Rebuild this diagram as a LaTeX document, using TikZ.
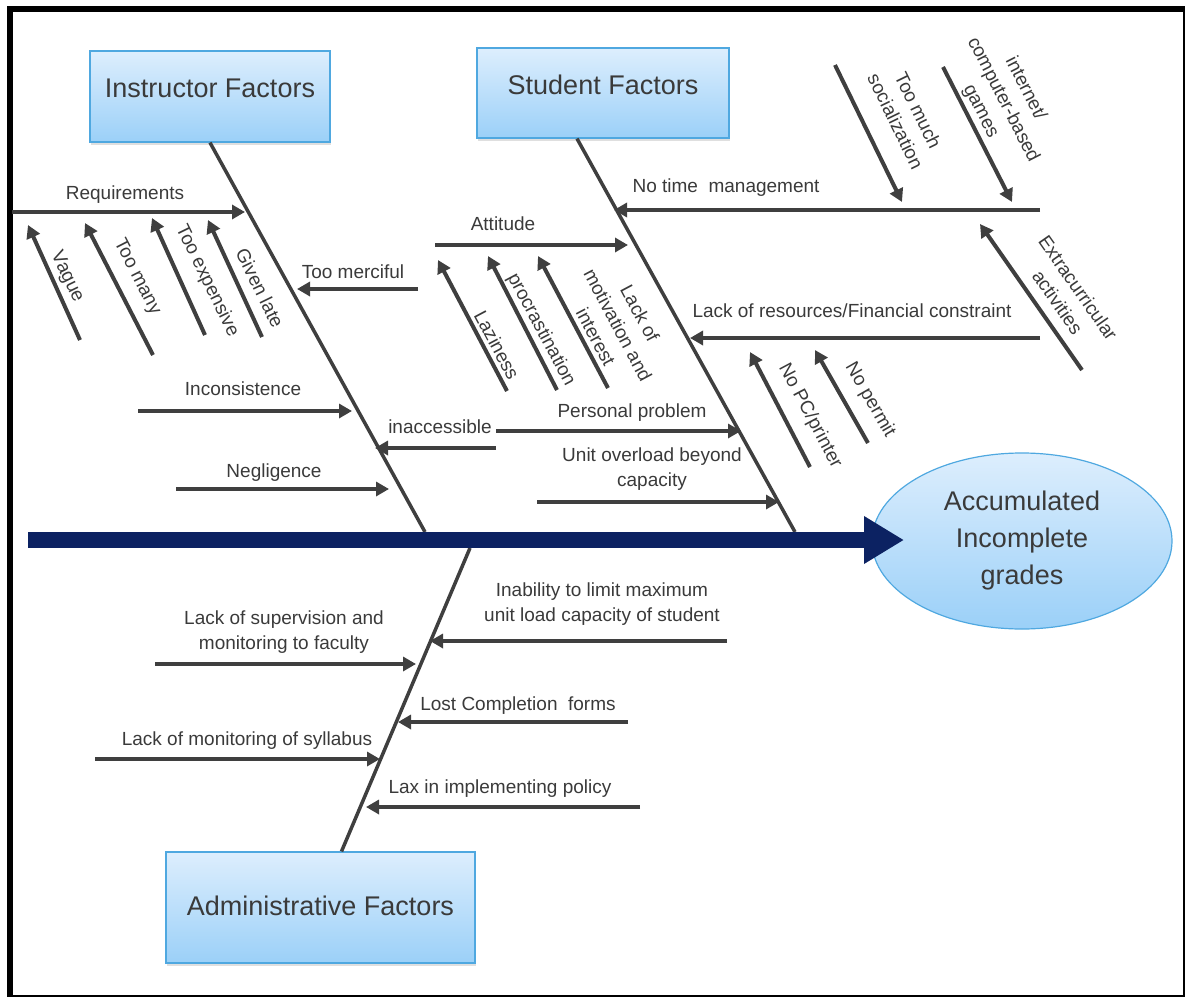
\documentclass[tikz,border=0pt]{standalone}
\usepackage{fontspec}
\setmainfont{Liberation Sans}
\usetikzlibrary{arrows.meta, shapes.geometric, shadows, positioning}

\definecolor{spineblue}{HTML}{0C2262}
\definecolor{bonegray}{HTML}{3F3F3F}
\definecolor{boxtop}{HTML}{DDEEFD}
\definecolor{boxbot}{HTML}{9BD0F8}
\definecolor{boxline}{HTML}{4FA8E0}
\definecolor{txtgray}{HTML}{3A3A3A}

\tikzset{
  factor/.style={draw=boxline, line width=1.2pt, top color=boxtop, bottom color=boxbot,
    text=txtgray, font=\fontsize{27}{30}\selectfont, text height=20pt,
    drop shadow={shadow xshift=1pt, shadow yshift=-3pt, opacity=.25}},
  effect/.style={ellipse, draw=boxline, line width=1.2pt, top color=boxtop, bottom color=boxbot,
    text=txtgray, font=\fontsize{27}{37}\selectfont, align=center,
    minimum width=300pt, minimum height=176pt, inner sep=0pt},
  bone/.style={draw=bonegray, line width=3.5pt},
  cause/.style={draw=bonegray, line width=4pt, -{Triangle[length=13pt,width=14pt]}},
  spine/.style={draw=spineblue, line width=16pt, -{Triangle[length=40pt,width=45pt]}},
  lbl/.style={text=txtgray, font=\fontsize{19}{25}\selectfont, inner sep=0pt, align=center},
}

\begin{document}
\begin{tikzpicture}[x=1pt, y=-1pt]
\useasboundingbox (0,0) rectangle (1187,998);

% frame
\draw[line width=6pt] (7,9) -- (1185,9);
\draw[line width=6pt] (10,7) -- (10,997);
\draw[line width=1.5pt] (1184,9) -- (1184,996) -- (7,996);

% heads
\node[factor, minimum width=240pt, minimum height=91pt, text depth=17pt] (instr) at (210,96.5) {Instructor Factors};
\node[factor, minimum width=252pt, minimum height=90pt, text depth=16pt] (stud) at (603,93) {Student Factors};
\node[factor, minimum width=309pt, minimum height=111pt, text depth=5pt] (admin) at (320.5,907.5) {Administrative Factors};
\node[effect] (result) at (1022,541) {Accumulated\\Incomplete\\grades};

% bones
\coordinate (ib-end) at (425,532);
\coordinate (sb-end) at (795,532);
\coordinate (ab-top) at (470,548);
\draw[bone] (instr.south) -- (ib-end);
\draw[bone] ([xshift=-26pt]stud.south) -- (sb-end);
\draw[bone] (ab-top) -- ([xshift=21pt]admin.north);

% spine
\coordinate (sp-a) at (28,540);
\coordinate (sp-b) at (904,540);
\draw[spine] (sp-a) -- (sp-b);

% instructor causes
\coordinate (req-a) at (12,212);   \coordinate (req-b) at (245,212);
\coordinate (vag-a) at (80,340);   \coordinate (vag-b) at (28,225);
\coordinate (many-a) at (153,355); \coordinate (many-b) at (85,223);
\coordinate (exp-a) at (205,335);  \coordinate (exp-b) at (152,218);
\coordinate (late-a) at (262,337); \coordinate (late-b) at (208,220);
\coordinate (mer-a) at (418,289);  \coordinate (mer-b) at (297,289);
\coordinate (inc-a) at (138,411);  \coordinate (inc-b) at (352,411);
\coordinate (neg-a) at (176,489);  \coordinate (neg-b) at (389,489);
\coordinate (acc-a) at (496,448);  \coordinate (acc-b) at (375,448);
\draw (req-a) edge[cause] (req-b)
      (vag-a) edge[cause] (vag-b)
      (many-a) edge[cause] (many-b)
      (exp-a) edge[cause] (exp-b)
      (late-a) edge[cause] (late-b)
      (mer-a) edge[cause] (mer-b)
      (inc-a) edge[cause] (inc-b)
      (neg-a) edge[cause] (neg-b)
      (acc-a) edge[cause] (acc-b);
\node[lbl, anchor=base] (req) at (125,199) {Requirements};
\node[lbl, rotate=-64] (vag) at (67,277) {Vague};
\node[lbl, rotate=-63] (many) at (137,277) {Too many};
\node[lbl, rotate=-64] (exp) at (207,281) {Too expensive};
\node[lbl, rotate=-64] (late) at (260,288) {Given late};
\node[lbl, anchor=base] (mer) at (353,278) {Too merciful};
\node[lbl, anchor=base] (inc) at (243,395) {Inconsistence};
\node[lbl, anchor=base] (neg) at (274,477) {Negligence};
\node[lbl, anchor=base] (acc) at (440,433) {inaccessible};

% student causes
\coordinate (att-a) at (435,245);   \coordinate (att-b) at (628,245);
\coordinate (laz-a) at (507,391);   \coordinate (laz-b) at (438,260);
\coordinate (pro-a) at (557,390);   \coordinate (pro-b) at (488,256);
\coordinate (mot-a) at (608,388);   \coordinate (mot-b) at (538,256);
\coordinate (tm-a) at (1040,210);   \coordinate (tm-b) at (614,210);
\coordinate (soc-a) at (835,65);    \coordinate (soc-b) at (902,202);
\coordinate (gam-a) at (943,67);    \coordinate (gam-b) at (1012,202);
\coordinate (ext-a) at (1082,370);  \coordinate (ext-b) at (980,224);
\coordinate (res-a) at (1040,338);  \coordinate (res-b) at (690,338);
\coordinate (pc-a) at (810,467);    \coordinate (pc-b) at (750,352);
\coordinate (per-a) at (868,443);   \coordinate (per-b) at (815,350);
\coordinate (pp-a) at (496,431);    \coordinate (pp-b) at (741,431);
\coordinate (uo-a) at (537,502);    \coordinate (uo-b) at (779,502);
\draw (att-a) edge[cause] (att-b)
      (laz-a) edge[cause] (laz-b)
      (pro-a) edge[cause] (pro-b)
      (mot-a) edge[cause] (mot-b)
      (tm-a) edge[cause] (tm-b)
      (soc-a) edge[cause] (soc-b)
      (gam-a) edge[cause] (gam-b)
      (ext-a) edge[cause] (ext-b)
      (res-a) edge[cause] (res-b)
      (pc-a) edge[cause] (pc-b)
      (per-a) edge[cause] (per-b)
      (pp-a) edge[cause] (pp-b)
      (uo-a) edge[cause] (uo-b);
\node[lbl, anchor=base] (att) at (503,230) {Attitude};
\node[lbl, rotate=-62] (laz) at (497,345) {Laziness};
\node[lbl, rotate=-62] (pro) at (541,330) {procrastination};
\node[lbl, rotate=-62] (mot) at (618,325) {Lack of\\motivation and\\interest};
\node[lbl, anchor=base] (tm) at (726,192) {No time~ management};
\node[lbl, rotate=-64] (soc) at (907,116) {Too much\\socialization};
\node[lbl, rotate=-63] (gam) at (1003,100) {internet/\\computer-based\\games};
\node[lbl, rotate=-55] (ext) at (1068,295) {Extracurricular\\activities};
\node[lbl, anchor=base] (res) at (852,317) {Lack of resources/Financial constraint};
\node[lbl, rotate=-62] (pc) at (810,416) {No PC/printer};
\node[lbl, rotate=-60] (per) at (870,400) {No permit};
\node[lbl, anchor=base] (pp) at (632,417) {Personal problem};
\node[lbl] (uo) at (652,469) {Unit overload beyond\\capacity};

% administrative causes
\coordinate (ina-a) at (727,641);  \coordinate (ina-b) at (430,641);
\coordinate (sup-a) at (155,664);  \coordinate (sup-b) at (416,664);
\coordinate (lcf-a) at (628,722);  \coordinate (lcf-b) at (398,722);
\coordinate (syl-a) at (95,759);   \coordinate (syl-b) at (380,759);
\coordinate (lax-a) at (640,807);  \coordinate (lax-b) at (366,807);
\draw (ina-a) edge[cause] (ina-b)
      (sup-a) edge[cause] (sup-b)
      (lcf-a) edge[cause] (lcf-b)
      (syl-a) edge[cause] (syl-b)
      (lax-a) edge[cause] (lax-b);
\node[lbl] (ina) at (602,604) {Inability to limit maximum\\unit load capacity of student};
\node[lbl] (sup) at (284,632) {Lack of supervision and\\monitoring to faculty};
\node[lbl, anchor=base] (lcf) at (518,710) {Lost Completion~ forms};
\node[lbl, anchor=base] (syl) at (247,745) {Lack of monitoring of syllabus};
\node[lbl, anchor=base] (lax) at (500,793) {Lax in implementing policy};
\end{tikzpicture}
\end{document}
